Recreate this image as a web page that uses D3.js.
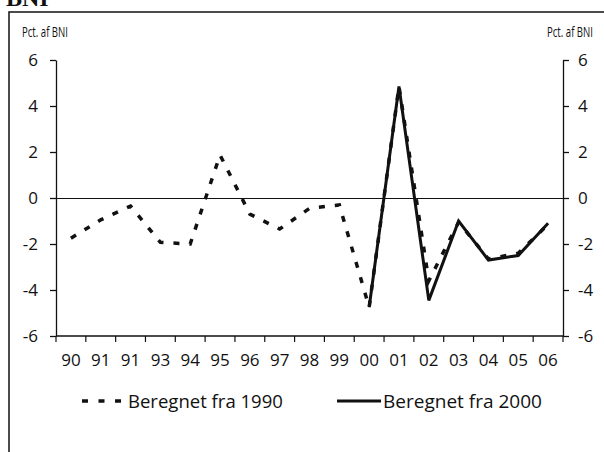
<!DOCTYPE html>
<html>
<head>
<meta charset="utf-8">
<script src="https://cdn.jsdelivr.net/npm/d3@7"></script>
<style>
  body { margin: 0; background: #fff; }
  text { font-family: "Open Sans", "Noto Sans", sans-serif; fill: #111; }
</style>
</head>
<body>
<div id="chart"></div>
<script>
// year labels as printed (note the repeated "91")
var yearLabels = ["90", "91", "91", "93", "94", "95", "96", "97", "98", "99",
                  "00", "01", "02", "03", "04", "05", "06"];
// Beregnet fra 1990 (pct. af BNI)
var seriesFrom1990 = [-1.75, -0.95, -0.35, -1.93, -2.0, 1.87, -0.7, -1.35, -0.45, -0.3,
                      -4.75, 4.85, -3.6, -1.05, -2.65, -2.4, -1.15];
// Beregnet fra 2000, starts at "00"
var seriesFrom2000 = [-4.75, 4.85, -4.45, -1.0, -2.7, -2.5, -1.1];
var yTicks = [-6, -4, -2, 0, 2, 4, 6];
var legendLabels = ["Beregnet fra 1990", "Beregnet fra 2000"];
var unitLabel = "Pct. af BNI";

var width = 604,
    height = 452;
var plot = { left: 56, right: 563, top: 60, bottom: 336 };

var svg, x, y;

createSVG();
createFrame();
createScales();
createAxes();
createLines();
createLegend();

function createSVG() {
  svg = d3.select("#chart")
    .append("svg")
      .attr("width", width)
      .attr("height", height);
}

// squeeze a text horizontally to a given width (the source font is condensed)
function squeezeText(sel, x0, y0, targetWidth) {
  var natural = sel.node().getComputedTextLength();
  sel.attr("transform", "translate(" + x0 + "," + y0 + ") scale(" + (targetWidth / natural) + ",1)");
}

function createFrame() {
  // heading above the box, cut by the top edge as in the source
  svg.append("text")
    .attr("x", 6)
    .attr("y", 6)
    .style("font-family", "'Liberation Serif', serif")
    .style("font-weight", "bold")
    .style("font-size", "24px")
    .text("BNI");

  svg.append("path")
    .attr("d", "M9," + height + "V12H" + width)
    .attr("fill", "none")
    .attr("stroke", "#111")
    .attr("stroke-width", 1.5);

  var leftUnit = svg.append("text")
    .style("font-size", "14px")
    .text(unitLabel);
  squeezeText(leftUnit, 22, 37, 46);

  var rightUnit = svg.append("text")
    .style("font-size", "14px")
    .text(unitLabel);
  squeezeText(rightUnit, 547, 37, 46);
}

function createScales() {
  x = d3.scaleBand()
    .domain(d3.range(yearLabels.length))
    .range([plot.left, plot.right]);
  y = d3.scaleLinear()
    .domain([-6, 6])
    .range([plot.bottom, plot.top]);
}

function createAxes() {
  var fmt = function(d) { return String(d); };
  var yLeft = d3.axisLeft(y).tickValues(yTicks).tickFormat(fmt)
    .tickSize(6).tickSizeOuter(0).tickPadding(12);
  var yRight = d3.axisRight(y).tickValues(yTicks).tickFormat(fmt)
    .tickSize(6).tickSizeOuter(0).tickPadding(9);

  svg.append("g")
    .attr("class", "y-axis")
    .attr("transform", "translate(" + plot.left + ",0)")
    .call(yLeft);
  svg.append("g")
    .attr("class", "y-axis")
    .attr("transform", "translate(" + plot.right + ",0)")
    .call(yRight);

  // zero line
  svg.append("line")
    .attr("x1", plot.left)
    .attr("x2", plot.right)
    .attr("y1", Math.round(y(0)) + 0.5)
    .attr("y2", Math.round(y(0)) + 0.5)
    .attr("stroke", "#111")
    .attr("stroke-width", 1);

  // bottom axis: labels at band centres, ticks at band edges
  var xAxis = d3.axisBottom(x)
    .tickFormat(function(i) { return yearLabels[i]; })
    .tickSize(0)
    .tickPadding(18);
  var gx = svg.append("g")
    .attr("class", "x-axis")
    .attr("transform", "translate(0," + plot.bottom + ")")
    .call(xAxis);
  gx.select(".domain").remove();

  svg.append("line")
    .attr("x1", plot.left)
    .attr("x2", plot.right)
    .attr("y1", plot.bottom)
    .attr("y2", plot.bottom)
    .attr("stroke", "#111")
    .attr("stroke-width", 1.3);

  var edges = d3.range(yearLabels.length + 1).map(function(i) {
    return plot.left + i * x.step();
  });
  svg.append("g")
    .selectAll("line")
    .data(edges)
    .enter()
      .append("line")
      .attr("x1", function(d) { return d; })
      .attr("x2", function(d) { return d; })
      .attr("y1", plot.bottom)
      .attr("y2", plot.bottom + 6)
      .attr("stroke", "#111")
      .attr("stroke-width", 1.2);

  svg.selectAll(".y-axis path, .y-axis line")
    .attr("stroke", "#111")
    .attr("stroke-width", 1.3);
  svg.selectAll(".y-axis text, .x-axis text")
    .style("font-size", "17px")
    .attr("fill", "#111");
}

function createLines() {
  var line = d3.line()
    .x(function(d) { return x(d.i) + x.bandwidth() / 2; })
    .y(function(d) { return y(d.v); });

  var dashed = seriesFrom1990.map(function(v, i) { return { i: i, v: v }; });
  var offset = yearLabels.indexOf("00");
  var solid = seriesFrom2000.map(function(v, i) { return { i: i + offset, v: v }; });

  svg.append("path")
    .datum(dashed)
    .attr("d", line)
    .attr("fill", "none")
    .attr("stroke", "#111")
    .attr("stroke-width", 3.5)
    .attr("stroke-dasharray", "6,10");

  svg.append("path")
    .datum(solid)
    .attr("d", line)
    .attr("fill", "none")
    .attr("stroke", "#111")
    .attr("stroke-width", 3)
    .attr("stroke-linejoin", "miter");
}

function createLegend() {
  var legendY = 401;

  svg.append("line")
    .attr("x1", 82)
    .attr("x2", 121)
    .attr("y1", legendY)
    .attr("y2", legendY)
    .attr("stroke", "#111")
    .attr("stroke-width", 3.5)
    .attr("stroke-dasharray", "6,10.5");
  var t1 = svg.append("text")
    .style("font-size", "17.5px")
    .text(legendLabels[0]);
  squeezeText(t1, 128, legendY + 7, 155);

  svg.append("line")
    .attr("x1", 337)
    .attr("x2", 381)
    .attr("y1", legendY)
    .attr("y2", legendY)
    .attr("stroke", "#111")
    .attr("stroke-width", 3);
  var t2 = svg.append("text")
    .style("font-size", "17.5px")
    .text(legendLabels[1]);
  squeezeText(t2, 383, legendY + 7, 159);
}
</script>
</body>
</html>
